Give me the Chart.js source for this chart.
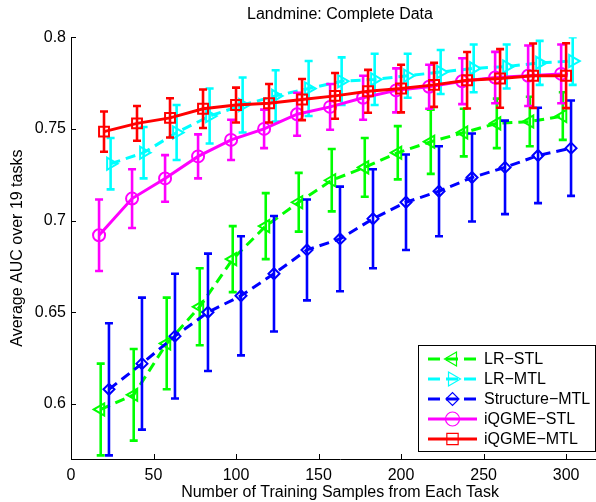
<!DOCTYPE html>
<html>
<head>
<meta charset="utf-8">
<title>Landmine: Complete Data</title>
<script src="https://cdn.jsdelivr.net/npm/chart.js@4.4.1/dist/chart.umd.min.js"></script>
<style>
  html, body { margin: 0; padding: 0; background: #fff; overflow: hidden; }
  #wrap { width: 596px; height: 502px; overflow: hidden; }
  #auc-chart { display: block; }
</style>
</head>
<body>
<!-- the original figure is cropped on the right: the canvas is a bit wider than the page -->
<div id="wrap"><canvas id="auc-chart" width="618" height="502"></canvas></div>
<script>
// Landmine: Complete Data - average AUC over 19 tasks

const xTicks = [0, 50, 100, 150, 200, 250, 300];
const yTicks = [0.6, 0.65, 0.7, 0.75, 0.8];

const seriesNames = ['LR−STL', 'LR−MTL', 'Structure−MTL', 'iQGME−STL', 'iQGME−MTL'];

// training samples per task (each curve is shifted a little, as in the original)
const lrStlX     = [18, 38, 58, 78, 98, 118, 138, 158, 178, 198, 218, 238, 258, 278, 298];
const lrMtlX     = [24, 44, 64, 84, 104, 124, 144, 164, 184, 204, 224, 244, 264, 284, 304];
const structX    = [23, 43, 63, 83, 103, 123, 143, 163, 183, 203, 223, 243, 263, 283, 303];
const iqgmeStlX  = [17, 37, 57, 77, 97, 117, 137, 157, 177, 197, 217, 237, 257, 277, 297];
const iqgmeMtlX  = [20, 40, 60, 80, 100, 120, 140, 160, 180, 200, 220, 240, 260, 280, 300];

// average AUC
const lrStlAuc    = [0.597, 0.605, 0.633, 0.653, 0.679, 0.697, 0.710, 0.722, 0.729, 0.737, 0.743, 0.748, 0.753, 0.754, 0.757];
const lrMtlAuc    = [0.731, 0.737, 0.748, 0.757, 0.763, 0.768, 0.772, 0.776, 0.777, 0.779, 0.781, 0.783, 0.784, 0.786, 0.787];
const structAuc   = [0.608, 0.622, 0.637, 0.650, 0.659, 0.671, 0.684, 0.690, 0.701, 0.710, 0.716, 0.7235, 0.729, 0.7355, 0.7395];
const iqgmeStlAuc = [0.692, 0.712, 0.723, 0.735, 0.744, 0.750, 0.758, 0.762, 0.767, 0.771, 0.773, 0.776, 0.778, 0.779, 0.780];
const iqgmeMtlAuc = [0.7485, 0.753, 0.756, 0.761, 0.763, 0.764, 0.766, 0.768, 0.7705, 0.772, 0.774, 0.7765, 0.7775, 0.779, 0.779];

// error bar half-lengths
const lrStlErr    = [0.025, 0.025, 0.025, 0.021, 0.018, 0.018, 0.016, 0.017, 0.016, 0.0145, 0.0175, 0.013, 0.0135, 0.0135, 0.013];
const lrMtlErr    = [0.014, 0.014, 0.015, 0.015, 0.015, 0.014, 0.015, 0.013, 0.014, 0.012, 0.012, 0.013, 0.012, 0.012, 0.013];
const structErr   = [0.036, 0.036, 0.034, 0.032, 0.0325, 0.0315, 0.0275, 0.0285, 0.027, 0.026, 0.0245, 0.024, 0.0255, 0.026, 0.026];
const iqgmeStlErr = [0.0195, 0.016, 0.0127, 0.012, 0.011, 0.0105, 0.0117, 0.0125, 0.012, 0.012, 0.012, 0.0125, 0.014, 0.0165, 0.016];
const iqgmeMtlErr = [0.011, 0.0095, 0.0107, 0.0105, 0.0095, 0.0105, 0.0112, 0.0125, 0.0117, 0.013, 0.012, 0.0154, 0.016, 0.0176, 0.0177];

const FONT = '"Liberation Sans", Arial, Helvetica, sans-serif';
const VISIBLE_WIDTH = 596;

function toPoints(xs, ys) {
    return xs.map((x, i) => ({ x: x, y: ys[i] }));
}

function makeSeries(label, xs, ys, errs, color, dashed, style, rotation, radius, order) {
    return {
        label: label,
        data: toPoints(xs, ys),
        errors: errs,
        borderColor: color,
        backgroundColor: 'rgba(0,0,0,0)',
        borderWidth: 3,
        borderDash: dashed ? [10, 6] : [],
        pointStyle: style,
        pointRotation: rotation,
        pointRadius: radius,
        pointBorderWidth: 2,
        pointBorderColor: color,
        pointBackgroundColor: 'rgba(0,0,0,0)',
        fill: false,
        tension: 0,
        order: order
    };
}

// vertical error bars with caps, drawn just before each curve
const errorBarsPlugin = {
    id: 'errorBars',
    beforeDatasetDraw(chart, args) {
        const ds = chart.data.datasets[args.index];
        if (!ds.errors) return;
        const ctx = chart.ctx;
        const area = chart.chartArea;
        const xs = chart.scales.x;
        const ys = chart.scales.y;
        ctx.save();
        ctx.beginPath();
        ctx.rect(area.left, area.top, area.right - area.left, area.bottom - area.top);
        ctx.clip();
        ctx.strokeStyle = ds.borderColor;
        ctx.lineWidth = 2.6;
        ctx.setLineDash([]);
        ds.data.forEach((pt, i) => {
            const e = ds.errors[i];
            const px = xs.getPixelForValue(pt.x);
            const top = ys.getPixelForValue(pt.y + e);
            const bot = ys.getPixelForValue(pt.y - e);
            ctx.beginPath();
            ctx.moveTo(px, top);
            ctx.lineTo(px, bot);
            ctx.moveTo(px - 4, top);
            ctx.lineTo(px + 4, top);
            ctx.moveTo(px - 4, bot);
            ctx.lineTo(px + 4, bot);
            ctx.stroke();
        });
        ctx.restore();
    }
};

// matlab style ticks pointing into the axes
const innerTicksPlugin = {
    id: 'innerTicks',
    afterDatasetsDraw(chart) {
        const ctx = chart.ctx;
        const area = chart.chartArea;
        const xs = chart.scales.x;
        const ys = chart.scales.y;
        ctx.save();
        ctx.strokeStyle = '#000';
        ctx.lineWidth = 1;
        ctx.beginPath();
        xTicks.forEach(v => {
            const px = Math.round(xs.getPixelForValue(v)) + 0.5;
            ctx.moveTo(px, area.bottom);
            ctx.lineTo(px, area.bottom - 5);
        });
        yTicks.forEach(v => {
            const py = Math.round(ys.getPixelForValue(v)) + 0.5;
            ctx.moveTo(area.left, py);
            ctx.lineTo(area.left + 5, py);
        });
        ctx.stroke();
        ctx.restore();
    }
};

// legend box in the lower right corner of the visible part
const boxLegendPlugin = {
    id: 'boxLegend',
    afterDraw(chart) {
        const ctx = chart.ctx;
        const area = chart.chartArea;
        const datasets = chart.data.datasets;
        const rowH = 20;
        const w = 177;
        const h = rowH * datasets.length + 6;
        const right = VISIBLE_WIDTH - 1;
        const bottom = area.bottom - 8;
        const left = right - w;
        const top = bottom - h;

        ctx.save();
        ctx.fillStyle = '#fff';
        ctx.fillRect(left, top, w, h);
        ctx.strokeStyle = '#000';
        ctx.lineWidth = 1;
        ctx.strokeRect(Math.round(left) + 0.5, Math.round(top) + 0.5, Math.round(w), Math.round(h));

        datasets.forEach((ds, i) => {
            const y = top + 14 + i * rowH;
            const x0 = left + 10;
            const x1 = left + 59;
            const xm = (x0 + x1) / 2;
            ctx.strokeStyle = ds.borderColor;
            ctx.lineWidth = 3;
            ctx.setLineDash(ds.borderDash.length ? [12, 6] : []);
            ctx.beginPath();
            ctx.moveTo(x0, y);
            ctx.lineTo(x1, y);
            ctx.stroke();
            ctx.setLineDash([]);
            ctx.fillStyle = 'rgba(0,0,0,0)';
            ctx.lineWidth = 1.2;
            Chart.helpers.drawPoint(ctx, {
                pointStyle: ds.pointStyle,
                rotation: ds.pointRotation,
                radius: ds.pointRadius + 1,
                borderWidth: 1.2
            }, xm, y);
            ctx.fillStyle = '#000';
            ctx.font = '16px ' + FONT;
            ctx.textBaseline = 'middle';
            ctx.textAlign = 'left';
            ctx.fillText(ds.label, left + 66, y + 1);
        });
        ctx.restore();
    }
};

const datasets = [
    makeSeries(seriesNames[0], lrStlX, lrStlAuc, lrStlErr, '#00ff00', true, 'triangle', -90, 7, 5),
    makeSeries(seriesNames[1], lrMtlX, lrMtlAuc, lrMtlErr, '#00ffff', true, 'triangle', 90, 7, 4),
    makeSeries(seriesNames[2], structX, structAuc, structErr, '#0000ff', true, 'rectRot', 0, 5.5, 3),
    makeSeries(seriesNames[3], iqgmeStlX, iqgmeStlAuc, iqgmeStlErr, '#ff00ff', false, 'circle', 0, 6, 2),
    makeSeries(seriesNames[4], iqgmeMtlX, iqgmeMtlAuc, iqgmeMtlErr, '#ff0000', false, 'rect', 0, 7, 1)
];

const ctx = document.getElementById('auc-chart').getContext('2d');

new Chart(ctx, {
    type: 'line',
    data: { datasets: datasets },
    options: {
        responsive: false,
        animation: false,
        devicePixelRatio: 1,
        layout: { padding: 0 },
        plugins: {
            legend: { display: false },
            tooltip: { enabled: false },
            title: {
                display: true,
                fullSize: false,
                text: 'Landmine: Complete Data',
                color: '#000',
                font: { family: FONT, size: 16, weight: 'normal' },
                padding: { top: 5, bottom: 13 }
            }
        },
        scales: {
            x: {
                type: 'linear',
                min: 0,
                max: 326,
                grid: { display: false, drawTicks: false },
                border: { display: true, color: '#000', width: 1 },
                ticks: {
                    color: '#000',
                    padding: 7,
                    font: { family: FONT, size: 16 },
                    callback: v => String(v)
                },
                title: {
                    display: true,
                    text: 'Number of Training Samples from Each Task',
                    color: '#000',
                    font: { family: FONT, size: 16 },
                    padding: { top: 0, bottom: 0 }
                },
                afterBuildTicks: scale => { scale.ticks = xTicks.map(v => ({ value: v })); },
                afterFit: scale => { scale.height = 43; }
            },
            y: {
                type: 'linear',
                min: 0.57,
                max: 0.8,
                grid: { display: false, drawTicks: false },
                border: { display: true, color: '#000', width: 1 },
                ticks: {
                    color: '#000',
                    padding: 5,
                    font: { family: FONT, size: 16 },
                    callback: v => String(v)
                },
                title: {
                    display: true,
                    text: 'Average AUC over 19 tasks',
                    color: '#000',
                    font: { family: FONT, size: 16 },
                    padding: { top: 8, bottom: 0 }
                },
                afterBuildTicks: scale => { scale.ticks = yTicks.map(v => ({ value: v })); },
                afterFit: scale => { scale.width = 71; }
            }
        }
    },
    plugins: [errorBarsPlugin, innerTicksPlugin, boxLegendPlugin]
});
</script>
</body>
</html>
